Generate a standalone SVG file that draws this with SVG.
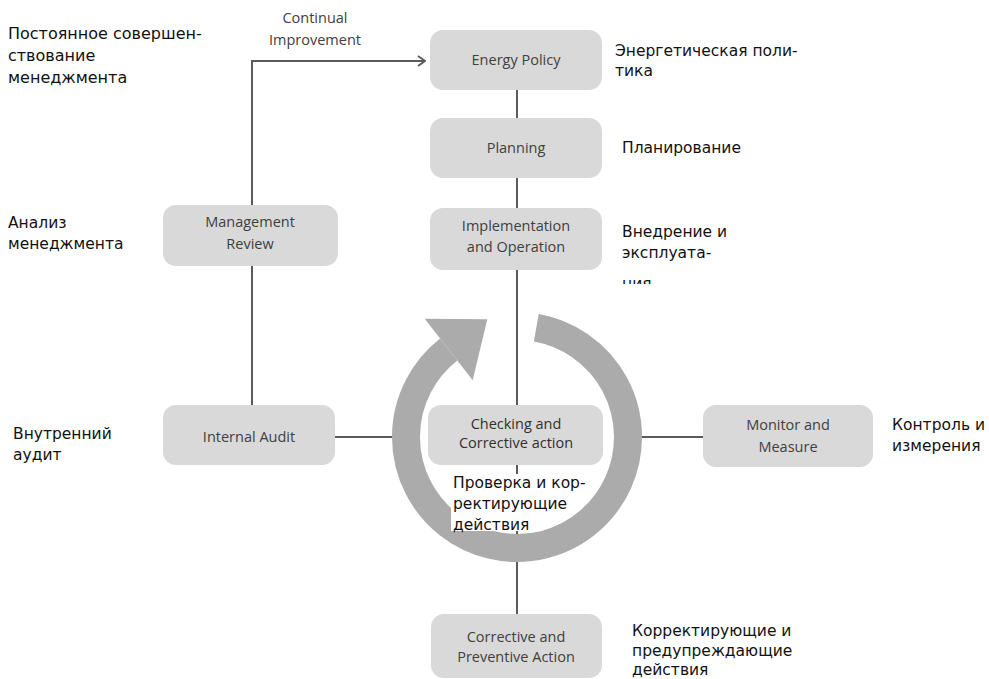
<svg xmlns="http://www.w3.org/2000/svg" width="989" height="679" viewBox="0 0 989 679">
<defs>
<style>
.box{fill:#d9d9d9;}
.bt{font-family:"Open Sans","Noto Sans",sans-serif;font-size:14.5px;fill:#404040;text-anchor:middle;}
.ru{font-family:"DejaVu Sans","Noto Sans",sans-serif;font-size:15.5px;fill:#111;}
.ln{stroke:#5a5a5a;stroke-width:2;fill:none;}
.wb{fill:#ffffff;}
</style>
<marker id="chev" viewBox="0 0 10 12" refX="9" refY="6" markerWidth="10" markerHeight="12" markerUnits="userSpaceOnUse" orient="auto">
<path d="M2,1 L9,6 L2,11" fill="none" stroke="#5a5a5a" stroke-width="1.8"/>
</marker>
<clipPath id="clipImpl"><rect x="600" y="200" width="200" height="84"/></clipPath>
</defs>
<rect width="989" height="679" fill="#ffffff"/>
<g id="connectors">
<line class="ln" x1="517" y1="90" x2="517" y2="118"/>
<line class="ln" x1="517" y1="178" x2="517" y2="208"/>
<line class="ln" x1="517" y1="270" x2="517" y2="405"/>
<line class="ln" x1="517" y1="465" x2="517" y2="614"/>
<path class="ln" d="M252,205 V61 H425" marker-end="url(#chev)"/>
<line class="ln" x1="252" y1="266" x2="252" y2="405"/>
<line class="ln" x1="335" y1="437" x2="395" y2="437"/>
<line class="ln" x1="640" y1="437" x2="703" y2="437"/>
</g>
<g id="cycle">
<path d="M536.3,327.7 A111,111 0 1 1 448.7,349.5" fill="none" stroke="#ababab" stroke-width="28"/>
<polygon points="424.7,318.8 487.3,319.3 472.7,380.2" fill="#ababab"/>
</g>
<g id="energy-policy">
<rect class="box" x="430" y="30" width="172" height="60" rx="13"/>
<text class="bt" x="516" y="65">Energy Policy</text>
</g>
<g id="planning">
<rect class="box" x="430" y="118" width="172" height="60" rx="13"/>
<text class="bt" x="516" y="153">Planning</text>
</g>
<g id="implementation">
<rect class="box" x="430" y="208" width="172" height="62" rx="13"/>
<text class="bt" x="516" y="231">Implementation</text>
<text class="bt" x="516" y="252">and Operation</text>
</g>
<g id="management-review">
<rect class="box" x="163" y="205" width="175" height="61" rx="13"/>
<text class="bt" x="250" y="227">Management</text>
<text class="bt" x="250" y="249">Review</text>
</g>
<g id="internal-audit">
<rect class="box" x="163" y="405" width="172" height="60" rx="13"/>
<text class="bt" x="249" y="442">Internal Audit</text>
</g>
<g id="checking">
<rect class="box" x="428" y="405" width="175" height="60" rx="13"/>
<text class="bt" x="516" y="429" style="fill:#303030">Checking and</text>
<text class="bt" x="516" y="448" style="fill:#303030">Corrective action</text>
</g>
<g id="monitor">
<rect class="box" x="703" y="405" width="170" height="62" rx="13"/>
<text class="bt" x="788" y="430">Monitor and</text>
<text class="bt" x="788" y="452">Measure</text>
</g>
<g id="corrective">
<rect class="box" x="431" y="614" width="171" height="64" rx="13"/>
<text class="bt" x="516" y="642">Corrective and</text>
<text class="bt" x="516" y="662">Preventive Action</text>
</g>
<g id="continual-label">
<text class="bt" x="315" y="23">Continual</text>
<text class="bt" x="315" y="45">Improvement</text>
</g>
<g id="ru-labels">
<text class="ru" x="8" y="39" style="font-size:16px">Постоянное совершен-</text>
<text class="ru" x="8" y="61" style="font-size:16px">ствование</text>
<text class="ru" x="8" y="83" style="font-size:16px">менеджмента</text>
<text class="ru" x="615" y="56">Энергетическая поли-</text>
<text class="ru" x="615" y="76">тика</text>
<text class="ru" x="622" y="153">Планирование</text>
<g clip-path="url(#clipImpl)">
<text class="ru" x="622" y="237">Внедрение и</text>
<text class="ru" x="622" y="258">эксплуата-</text>
<text class="ru" x="622" y="289">ния</text>
</g>
<text class="ru" x="8" y="228">Анализ</text>
<text class="ru" x="8" y="249">менеджмента</text>
<text class="ru" x="13" y="439">Внутренний</text>
<text class="ru" x="13" y="460">аудит</text>
<text class="ru" x="892" y="430">Контроль и</text>
<text class="ru" x="892" y="451">измерения</text>
<rect class="wb" x="451" y="474" width="138" height="20"/>
<rect class="wb" x="451" y="494" width="118" height="20"/>
<rect class="wb" x="451" y="514" width="92" height="17"/>
<text class="ru" x="453" y="488">Проверка и кор-</text>
<text class="ru" x="453" y="509">ректирующие</text>
<text class="ru" x="453" y="530">действия</text>
<text class="ru" x="632" y="636">Корректирующие и</text>
<text class="ru" x="632" y="656">предупреждающие</text>
<text class="ru" x="632" y="675">действия</text>
</g>
</svg>
